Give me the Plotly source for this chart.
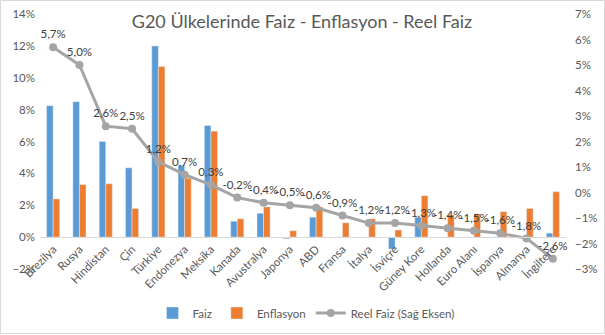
import plotly.graph_objects as go

categories = ["Brezilya", "Rusya", "Hindistan", "Çin", "Türkiye", "Endonezya", "Meksika",
              "Kanada", "Avustralya", "Japonya", "ABD", "Fransa", "İtalya", "İsviçre",
              "Güney Kore", "Hollanda", "Euro Alanı", "İspanya", "Almanya", "İngiltere"]
faiz = [8.25, 8.5, 6.0, 4.35, 12.0, 4.5, 7.0, 1.0, 1.5, -0.1, 1.25, 0.0, 0.0, -0.75,
        1.25, 0.0, 0.0, 0.0, 0.0, 0.25]
enflasyon = [2.4, 3.3, 3.35, 1.8, 10.7, 3.7, 6.65, 1.15, 1.9, 0.4, 1.9, 0.9, 1.15, 0.45,
             2.6, 1.4, 1.45, 1.6, 1.8, 2.85]
reel_faiz = [5.7, 5.0, 2.6, 2.5, 1.2, 0.7, 0.3, -0.2, -0.4, -0.5, -0.6, -0.9, -1.2, -1.2,
             -1.3, -1.4, -1.5, -1.6, -1.8, -2.6]

reel_labels = [("%.1f%%" % v).replace(".", ",") for v in reel_faiz]

FONT = "Lato, Carlito, Calibri, sans-serif"
TXT = "#595959"

fig = go.Figure()
fig.add_trace(go.Bar(x=categories, y=faiz, name="Faiz", marker_color="#5B9BD5"))
fig.add_trace(go.Bar(x=categories, y=enflasyon, name="Enflasyon", marker_color="#ED7D31"))
fig.add_trace(go.Scatter(x=categories, y=reel_faiz, name="Reel Faiz (Sağ Eksen)", yaxis="y2",
                         mode="lines+markers+text", text=reel_labels, textposition="top center",
                         textfont=dict(size=11.5, color="#404040", family=FONT),
                         line=dict(color="#A5A5A5", width=3),
                         marker=dict(color="#A5A5A5", size=8), cliponaxis=False))

W, H = 605, 335
ml, mr, mt, mb = 40, 39, 14, 66
pw, ph = W - ml - mr, H - mt - mb

fig.update_layout(
    width=W, height=H,
    margin=dict(l=ml, r=mr, t=mt, b=mb, autoexpand=False),
    paper_bgcolor="white", plot_bgcolor="white",
    font=dict(family=FONT, color=TXT, size=11.5),
    title=dict(text="G20 Ülkelerinde Faiz - Enflasyon - Reel Faiz", x=302 / W, xanchor="center",
               y=1 - 22 / H, yanchor="middle", font=dict(size=18, color=TXT, family=FONT)),
    barmode="group", bargap=0.5, bargroupgap=0,
    xaxis=dict(type="category", anchor="free", position=2 / 16, showline=True,
               range=[-0.5, len(categories) - 0.5],
               linecolor="#D9D9D9", linewidth=1, tickangle=-45, ticks="", automargin=False,
               tickfont=dict(size=11.5, color=TXT), showgrid=False),
    yaxis=dict(range=[-2, 14], dtick=2, ticksuffix="%", showgrid=False, zeroline=False,
               automargin=False, tickfont=dict(size=11.5, color=TXT), ticklabelstandoff=4),
    yaxis2=dict(range=[-3, 7], dtick=1, ticksuffix="%", overlaying="y", side="right",
                showgrid=False, zeroline=False, tickfont=dict(size=11.5, color=TXT),
                automargin=False, ticklabelstandoff=8),
    legend=dict(orientation="h", x=(306 - ml) / pw, xanchor="center",
                y=-(313 - (mt + ph)) / ph, yanchor="middle",
                font=dict(size=11.5, color=TXT), itemwidth=30, tracegroupgap=0),
    shapes=[dict(type="rect", xref="paper", yref="paper",
                 x0=(0.5 - ml) / pw, x1=(W - 0.5 - ml) / pw,
                 y0=-(H - 1.5 - mt - ph) / ph, y1=1 + (mt - 0.5) / ph,
                 line=dict(color="#D9D9D9", width=1), layer="below")],
)

fig.write_html("out.html")
